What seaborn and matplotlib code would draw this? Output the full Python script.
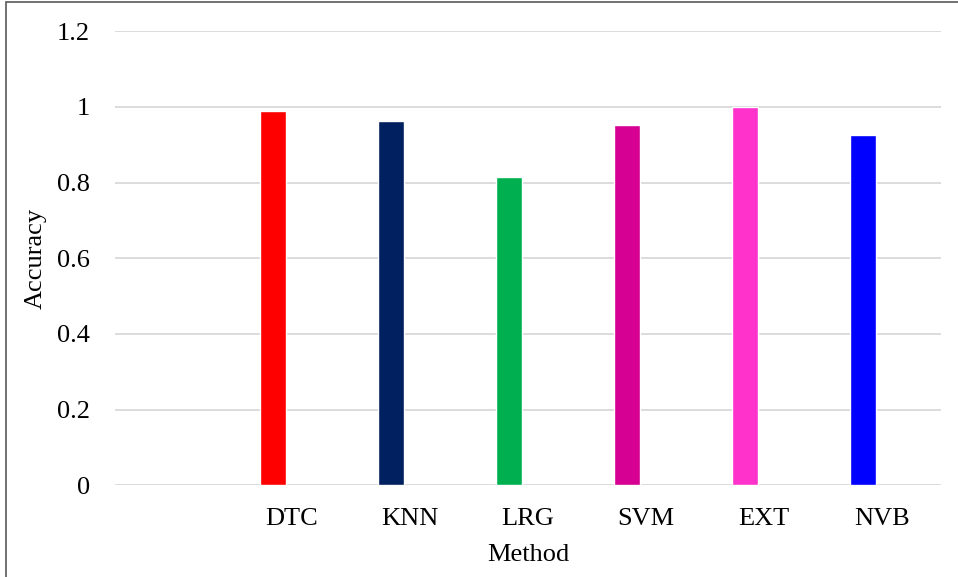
import numpy as np
import pandas as pd
import matplotlib
matplotlib.use('Agg')
import matplotlib.pyplot as plt
import seaborn as sns

# values (first slot is empty in the original)
methods = ['', 'DTC', 'KNN', 'LRG', 'SVM', 'EXT', 'NVB']
accuracy = [np.nan, 0.989, 0.962, 0.814, 0.952, 0.999, 0.925]
colors = ['#ffffff', '#ff0000', '#002060', '#00b050', '#d60093', '#ff33cc', '#0000ff']

data = pd.DataFrame({'Method': methods, 'Accuracy': accuracy})

sns.set_style('white')
plt.rcParams['font.family'] = ['Liberation Serif', 'DejaVu Serif']
plt.rcParams['text.color'] = 'black'
plt.rcParams['axes.labelcolor'] = 'black'
plt.rcParams['xtick.color'] = 'black'
plt.rcParams['ytick.color'] = 'black'

fig = plt.figure(figsize=(9.58, 5.77), dpi=100)
ax = fig.add_axes([0.12, 0.159, 0.862, 0.787])

sns.barplot(data=data, x='Method', y='Accuracy', hue='Method', palette=colors,
            order=methods, width=0.215, legend=False, ax=ax, saturation=1)

# bars sit a little left of the category centre, like the original chart
for p in ax.patches:
    p.set_x(p.get_x() - 0.16)

ax.set_ylim(0, 1.2)
ax.set_yticks([0, 0.2, 0.4, 0.6, 0.8, 1, 1.2])
ax.set_yticklabels(['0', '0.2', '0.4', '0.6', '0.8', '1', '1.2'])
ax.set_xlim(-0.5, 6.5)
ax.yaxis.grid(True, color='#d9d9d9', linewidth=1.3)
ax.set_axisbelow(True)
for s in ax.spines.values():
    s.set_visible(False)
ax.tick_params(axis='both', length=0, labelsize=19)
ax.tick_params(axis='y', pad=18)
ax.tick_params(axis='x', pad=16.5)
ax.set_xlabel('Method', fontsize=19, labelpad=10)
ax.set_ylabel('Accuracy', fontsize=19, labelpad=7.5)

# outer border like the original frame
fig.patches.append(plt.Rectangle((0.006, -0.01), 1.0, 1.007, transform=fig.transFigure,
                                 fill=False, edgecolor='#595959', linewidth=1.2))

fig.savefig('out.png', dpi=100)
